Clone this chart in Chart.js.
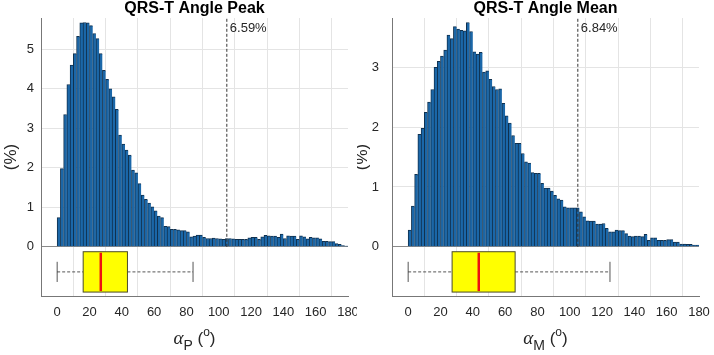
<!DOCTYPE html>
<html>
<head>
<meta charset="utf-8">
<script src="https://cdn.jsdelivr.net/npm/chart.js@4/dist/chart.umd.min.js"></script>
<style>
  body { margin: 0; background: #fff; }
  #wrap { position: relative; width: 714px; height: 355px; }
  canvas { position: absolute; top: 0; }
  #peakChart { left: 0; }
  #meanChart { left: 357px; }
</style>
</head>
<body>
<div id="wrap">
  <canvas id="peakChart" width="357" height="355"></canvas>
  <canvas id="meanChart" width="357" height="355"></canvas>
</div>
<script>
// histogram bins: 2 degree wide, 0..180
const binCenters = Array.from({ length: 90 }, (_, i) => 2 * i + 1);
const xTicks = [0, 20, 40, 60, 80, 100, 120, 140, 160, 180];

// QRS-T angle peak, % per bin
const peakPct = [
  0.74, 1.98, 3.35, 4.11, 4.60, 4.89, 5.33, 5.67, 5.68, 5.67,
  5.60, 5.40, 5.27, 4.89, 4.47, 4.24, 4.00, 3.80, 3.48, 2.83,
  2.60, 2.45, 2.32, 1.94, 1.87, 1.60, 1.31, 1.20, 1.11, 1.01,
  0.91, 0.78, 0.74, 0.52, 0.51, 0.44, 0.44, 0.43, 0.41, 0.41,
  0.38, 0.25, 0.27, 0.30, 0.30, 0.24, 0.21, 0.21, 0.22, 0.21,
  0.20, 0.19, 0.21, 0.21, 0.20, 0.19, 0.19, 0.19, 0.19, 0.23,
  0.24, 0.24, 0.19, 0.25, 0.29, 0.28, 0.27, 0.27, 0.24, 0.32,
  0.21, 0.28, 0.27, 0.27, 0.19, 0.28, 0.25, 0.20, 0.24, 0.23,
  0.23, 0.20, 0.14, 0.14, 0.13, 0.13, 0.08, 0.06, 0.03, 0.02
];
// QRS-T angle mean, % per bin
const meanPct = [
  0.28, 0.68, 1.21, 1.88, 1.98, 2.25, 2.42, 2.63, 3.00, 3.10,
  3.19, 3.29, 3.54, 3.48, 3.68, 3.64, 3.62, 3.61, 3.75, 3.60,
  3.26, 3.22, 3.25, 2.92, 2.94, 2.80, 2.68, 2.63, 2.64, 2.40,
  2.19, 2.07, 1.86, 1.73, 1.73, 1.56, 1.42, 1.40, 1.24, 1.23,
  1.23, 1.06, 0.98, 0.98, 0.93, 0.86, 0.80, 0.78, 0.67, 0.65,
  0.65, 0.65, 0.65, 0.585, 0.50, 0.435, 0.43, 0.43, 0.38, 0.38,
  0.39, 0.31, 0.25, 0.25, 0.28, 0.27, 0.27, 0.22, 0.18, 0.17,
  0.18, 0.18, 0.17, 0.21, 0.11, 0.15, 0.15, 0.11, 0.11, 0.11,
  0.12, 0.12, 0.08, 0.08, 0.045, 0.045, 0.04, 0.04, 0.03, 0.03
];

// boxplot stats: [lower whisker, q1, median, q3, upper whisker]
const peakBox = [0, 16.1, 27, 43.5, 84.1];
const meanBox = [0, 27.2, 43.7, 66.2, 124.9];

const threshold = 105;
const peakAbove = 6.59;
const meanAbove = 6.84;

const peakYTicks = [0, 1, 2, 3, 4, 5];
const meanYTicks = [0, 1, 2, 3];

Chart.defaults.font.family = "'Liberation Sans', Arial, sans-serif";
Chart.defaults.color = '#262626';

const boxPlot = {
  id: 'boxPlot',
  afterDatasetsDraw(chart, args, o) {
    const { ctx, chartArea: a, scales: { x, y } } = chart;
    const [lo, q1, med, q3, hi] = o.stats;
    const px = v => x.getPixelForValue(v);
    const top = y.getPixelForValue(y.min * 0.1);
    const bot = y.getPixelForValue(y.min * 0.92);
    const mid = (top + bot) / 2;
    const cap = (bot - top) * 0.25;

    ctx.save();
    const seg = (x1, y1, x2, y2) => { ctx.beginPath(); ctx.moveTo(x1, y1); ctx.lineTo(x2, y2); ctx.stroke(); };

    ctx.strokeStyle = '#2a2a2a';
    ctx.lineWidth = 0.8;
    ctx.setLineDash([3, 2]);
    seg(px(lo), mid, px(q1), mid);
    seg(px(q3), mid, px(hi), mid);
    ctx.setLineDash([]);
    seg(px(lo), mid - cap, px(lo), mid + cap);
    seg(px(hi), mid - cap, px(hi), mid + cap);

    ctx.fillStyle = '#ffff00';
    ctx.fillRect(px(q1), top, px(q3) - px(q1), bot - top);
    ctx.strokeStyle = '#4a4a2a';
    ctx.lineWidth = 1;
    ctx.strokeRect(px(q1), top, px(q3) - px(q1), bot - top);

    ctx.strokeStyle = '#ee1111';
    ctx.lineWidth = 2.5;
    seg(px(med), top + 1, px(med), bot - 1);

    // share above threshold
    ctx.fillStyle = '#262626';
    ctx.font = "13px 'Liberation Sans', Arial, sans-serif";
    ctx.textBaseline = 'middle';
    ctx.textAlign = 'left';
    ctx.fillText(o.above.toFixed(2) + '%', px(threshold) + 3, a.top + 10);

    // y label
    ctx.save();
    ctx.translate(a.left - 30, (a.top + a.bottom) / 2);
    ctx.rotate(-Math.PI / 2);
    ctx.textAlign = 'center';
    ctx.font = "17px 'Liberation Sans', Arial, sans-serif";
    ctx.fillText('(%)', 0, 0);
    ctx.restore();

    // x label: alpha with subscript and degree superscript
    ctx.textBaseline = 'alphabetic';
    const parts = [
      { t: '\u03b1', f: "italic 19px 'Liberation Serif', serif", dy: 0 },
      { t: o.sub, f: "14px 'Liberation Sans', Arial, sans-serif", dy: 6 },
      { t: ' (', f: "17px 'Liberation Sans', Arial, sans-serif", dy: 0 },
      { t: 'o', f: "12px 'Liberation Sans', Arial, sans-serif", dy: -8 },
      { t: ')', f: "17px 'Liberation Sans', Arial, sans-serif", dy: 0 }
    ];
    let w = 0;
    parts.forEach(p => { ctx.font = p.f; p.w = ctx.measureText(p.t).width; w += p.w; });
    let cx = (a.left + a.right) / 2 - w / 2;
    const base = a.bottom + 48;
    parts.forEach(p => { ctx.font = p.f; ctx.fillText(p.t, cx, base + p.dy); cx += p.w; });
    ctx.restore();
  }
};

function makeChart(id, title, values, yTicks, stats, above, sub, yWidth, tickPad, rightPad) {
  const peak = Math.max(...values);
  const yMax = peak * 1.02;
  const yMin = -0.215 * yMax;
  return new Chart(document.getElementById(id), {
    type: 'bar',
    data: {
      datasets: [
        {
          type: 'line',
          data: [{ x: threshold, y: 0 }, { x: threshold, y: yMax }],
          borderColor: '#333',
          borderWidth: 1,
          borderDash: [3, 2],
          pointRadius: 0,
          order: 1
        },
        {
          data: binCenters.map((c, i) => ({ x: c, y: values[i] })),
          backgroundColor: '#1b67a8',
          borderColor: '#10314f',
          borderWidth: { top: 1, left: 1, right: 0, bottom: 0 },
          barPercentage: 1,
          categoryPercentage: 1,
          order: 2
        }
      ]
    },
    options: {
      responsive: false,
      animation: false,
      layout: { padding: { left: 0, right: rightPad, top: 0, bottom: 0 } },
      plugins: {
        legend: { display: false },
        tooltip: { enabled: false },
        title: {
          display: true,
          text: title,
          fullSize: false,
          color: '#000',
          font: { size: 16, weight: 'bold', lineHeight: 1.125 },
          padding: { top: 0, bottom: 0 }
        },
        boxPlot: { stats, above, sub }
      },
      scales: {
        x: {
          type: 'linear',
          min: -10,
          max: 180,
          offset: false,
          afterBuildTicks: s => { s.ticks = xTicks.map(v => ({ value: v })); },
          afterFit: s => { s.height = 59; s.paddingLeft = 0; s.paddingRight = 0; },
          grid: { color: '#e4e4e4', drawTicks: false },
          border: { color: '#777' },
          ticks: { font: { size: 13 }, padding: 9, maxRotation: 0, autoSkip: false }
        },
        y: {
          min: yMin,
          max: yMax,
          afterBuildTicks: s => { s.ticks = yTicks.map(v => ({ value: v })); },
          afterFit: s => { s.width = yWidth; s.paddingTop = 0; s.paddingBottom = 0; },
          grid: {
            color: c => (c.tick && c.tick.value === 0 ? '#8a8a8a' : '#e4e4e4'),
            drawTicks: false
          },
          border: { color: '#777' },
          ticks: { font: { size: 13 }, padding: tickPad }
        }
      }
    },
    plugins: [boxPlot]
  });
}

makeChart('peakChart', 'QRS-T Angle Peak', peakPct, peakYTicks, peakBox, peakAbove, 'P', 41, 7, 9);
makeChart('meanChart', 'QRS-T Angle Mean', meanPct, meanYTicks, meanBox, meanAbove, 'M', 35, 13, 15);
</script>
</body>
</html>
